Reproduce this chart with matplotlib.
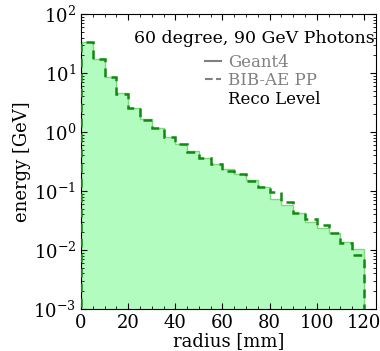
import numpy as np
import matplotlib
matplotlib.use("Agg")
import matplotlib.pyplot as plt
from matplotlib.lines import Line2D
from matplotlib.ticker import LogLocator, AutoMinorLocator

plt.rcParams['font.family'] = 'DejaVu Serif'
plt.rcParams['mathtext.fontset'] = 'dejavuserif'

# radial bins [mm]
bin_edges = np.arange(0, 125, 5)

# energy per bin [GeV]
geant4 = [33.6, 17.5, 8.5, 4.5, 2.6, 1.65, 1.16, 0.82, 0.62, 0.47, 0.36, 0.29,
          0.24, 0.194, 0.155, 0.115, 0.074, 0.057, 0.042, 0.030, 0.0238, 0.019,
          0.0137, 0.0105]
bibae = [33.0, 17.0, 8.4, 4.4, 2.6, 1.62, 1.15, 0.81, 0.62, 0.46, 0.36, 0.29,
         0.215, 0.194, 0.145, 0.117, 0.095, 0.066, 0.043, 0.034, 0.026, 0.019,
         0.0129, 0.0081]

fig = plt.figure(figsize=(3.8, 3.51), dpi=100)
ax = fig.add_axes([0.213, 0.12, 0.776, 0.84])

centers = bin_edges[:-1] + 2.5
ax.hist(centers, bins=bin_edges, weights=geant4, histtype='stepfilled',
        color='#b3fcc0', zorder=1)
ax.hist(centers, bins=bin_edges, weights=geant4, histtype='step',
        color='#80d880', lw=1.0, zorder=2)
ax.hist(centers, bins=bin_edges, weights=bibae, histtype='step',
        color='#108a10', lw=1.8, ls=(0, (3.5, 2.5)), zorder=3)

ax.set_yscale('log')
ax.set_xlim(0, 125)
ax.set_ylim(1e-3, 1e2)
ax.set_xticks([0, 20, 40, 60, 80, 100, 120])
ax.xaxis.set_minor_locator(AutoMinorLocator(4))
ax.yaxis.set_minor_locator(LogLocator(base=10, subs=np.arange(2, 10), numticks=20))
ax.tick_params(which='both', direction='in', top=True, right=True, labelsize=13)
ax.tick_params(which='major', length=4)
ax.tick_params(which='minor', length=2)

ax.set_xlabel('radius [mm]', fontsize=13, labelpad=0)
ax.set_ylabel('energy [GeV]', fontsize=13, labelpad=2)

ax.text(0.995, 0.945, '60 degree, 90 GeV Photons', transform=ax.transAxes,
        ha='right', va='top', fontsize=12.5)

handles = [Line2D([], [], color='gray', lw=1.5),
           Line2D([], [], color='gray', lw=1.5, ls='--'),
           Line2D([], [], color='none')]
leg = ax.legend(handles, ['Geant4', 'BIB-AE PP', 'Reco Level'], loc='upper left',
                bbox_to_anchor=(0.42, 0.866), frameon=False, fontsize=12,
                handlelength=1.0, handletextpad=0.4, labelspacing=0.1,
                borderpad=0.0, borderaxespad=0.0)
for t, c in zip(leg.get_texts(), ['gray', 'gray', 'black']):
    t.set_color(c)

fig.savefig('out.png', dpi=100)
